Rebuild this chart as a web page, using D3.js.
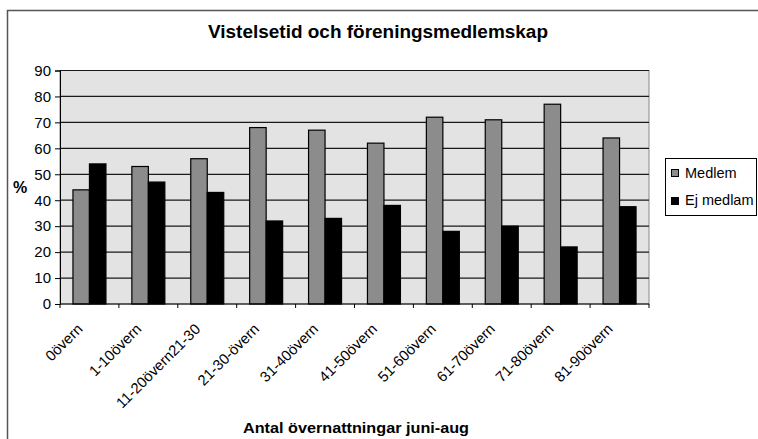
<!DOCTYPE html>
<html><head><meta charset="utf-8">
<script src="https://cdn.jsdelivr.net/npm/d3@7"></script>
<style>body{margin:0;background:#fff}svg{display:block}text{font-family:"Liberation Sans",Arial,sans-serif}</style>
</head><body>
<script>
const categories = ["0övern","1-10övern","11-20övern21-30","21-30-övern","31-40övern","41-50övern","51-60övern","61-70övern","71-80övern","81-90övern"];
const seriesNames = ["Medlem","Ej medlam"];
const medlem = [44,53,56,68,67,62,72,71,77,64];
const ejMedlem = [54,47,43,32,33,38,28,30,22,37.5];
const yTicks = [0,10,20,30,40,50,60,70,80,90];
const colors = ["#8c8c8c","#000000"];

const W=758,H=439;
const svg=d3.select("body").append("svg").attr("width",W).attr("height",H);
// outer border
svg.append("path").attr("d","M7.5,439 V10.5 H758").attr("fill","none").attr("stroke","#555").attr("stroke-width",1.5);

const m={l:60,r:649,t:70.5,b:304};
const x=d3.scaleBand().domain(categories).range([m.l,m.r]).paddingInner(0.44).paddingOuter(0.22);
const xs=d3.scaleBand().domain(seriesNames).range([0,x.bandwidth()]);
const y=d3.scaleLinear().domain([0,90]).range([m.b,m.t]);

svg.append("rect").attr("x",m.l).attr("y",m.t).attr("width",m.r-m.l).attr("height",m.b-m.t).attr("fill","#e3e3e3").attr("stroke","#888").attr("stroke-width",1);
// gridlines
svg.append("g").selectAll("line").data(yTicks.filter(d=>d>0)).join("line")
 .attr("x1",m.l).attr("x2",m.r).attr("y1",d=>y(d)).attr("y2",d=>y(d)).attr("stroke","#1a1a1a").attr("stroke-width",1.2);

const data=categories.map((c,i)=>({c,vals:[medlem[i],ejMedlem[i]]}));
const g=svg.append("g");
data.forEach(d=>{
  d.vals.forEach((v,j)=>{
    g.append("rect").attr("x",x(d.c)+xs(seriesNames[j])).attr("y",y(v)).attr("width",xs.bandwidth()).attr("height",y(0)-y(v))
     .attr("fill",colors[j]).attr("stroke","#000").attr("stroke-width",1.2);
  });
});

// y axis
const ya=svg.append("g").attr("transform",`translate(${m.l},0)`).call(d3.axisLeft(y).tickValues(yTicks).tickSize(5).tickPadding(4));
ya.select(".domain").attr("stroke","#000");
ya.selectAll("text").attr("font-size",15).attr("fill","#000");
// x axis
const xTickPos=d3.range(categories.length+1).map(i=>m.l+i*(m.r-m.l)/categories.length);
svg.append("line").attr("x1",m.l).attr("x2",m.r).attr("y1",m.b).attr("y2",m.b).attr("stroke","#000");
svg.append("g").selectAll("line").data(xTickPos).join("line").attr("x1",d=>d).attr("x2",d=>d).attr("y1",m.b).attr("y2",m.b+4).attr("stroke","#000");
svg.append("g").selectAll("text").data(categories).join("text")
 .attr("transform",d=>`translate(${x(d)+x.bandwidth()/2-6},${m.b+26}) rotate(-45)`)
 .attr("text-anchor","end").attr("font-size",14.8).text(d=>d);

svg.append("text").attr("x",378).attr("y",38).attr("text-anchor","middle").attr("font-size",18).attr("font-weight","bold")
 .attr("textLength",340).attr("lengthAdjust","spacingAndGlyphs").text("Vistelsetid och föreningsmedlemskap");
svg.append("text").attr("x",20).attr("y",193).attr("text-anchor","middle").attr("font-size",16).attr("font-weight","bold").text("%");
svg.append("text").attr("x",356).attr("y",433).attr("text-anchor","middle").attr("font-size",15.5).attr("font-weight","bold")
 .attr("textLength",226).attr("lengthAdjust","spacingAndGlyphs").text("Antal övernattningar juni-aug");

// legend
const lg=svg.append("g");
lg.append("rect").attr("x",665.5).attr("y",158.5).attr("width",91).attr("height",57).attr("fill","#fff").attr("stroke","#000");
seriesNames.forEach((n,i)=>{
  lg.append("rect").attr("x",671.5).attr("y",169.5+i*28).attr("width",7).attr("height",7).attr("fill",colors[i]).attr("stroke","#000");
  lg.append("text").attr("x",685).attr("y",178+i*27).attr("font-size",14.5).text(n);
});
</script>
</body></html>
